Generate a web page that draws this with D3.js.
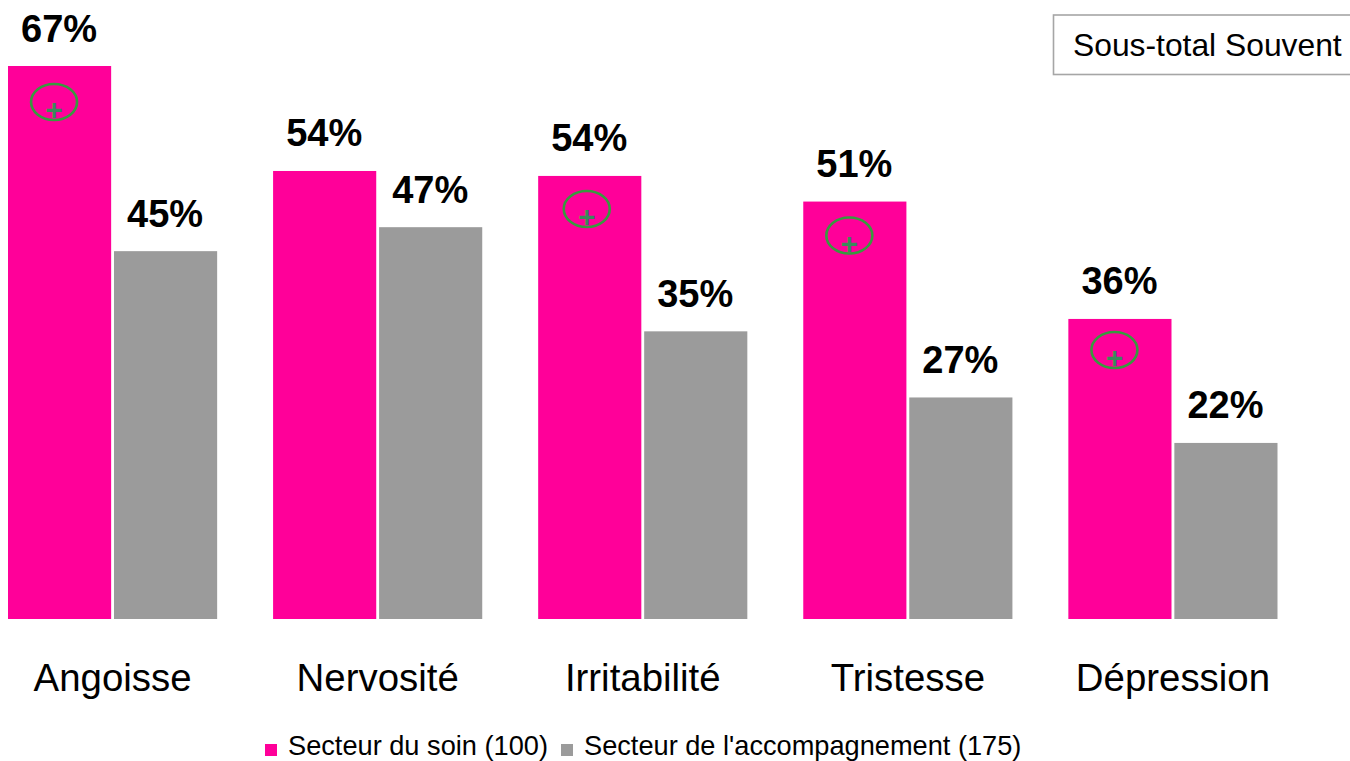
<!DOCTYPE html>
<html><head><meta charset="utf-8">
<script src="https://cdn.jsdelivr.net/npm/d3@7"></script>
<style>html,body{margin:0;padding:0;background:#fff}svg{display:block}text{font-family:"Liberation Sans",Arial,sans-serif;fill:#000}</style>
</head><body><div id="chart"></div>
<script>
const categories = ["Angoisse","Nervosité","Irritabilité","Tristesse","Dépression"];
const seriesNames = ["Secteur du soin (100)","Secteur de l'accompagnement (175)"];
const soin = [66.9,54.2,53.6,50.5,36.3];
const accompagnement = [44.5,47.4,34.8,26.8,21.3];
const soinLabels = ["67%","54%","54%","51%","36%"];
const accompagnementLabels = ["45%","47%","35%","27%","22%"];
const significant = [true,false,true,true,true];
const colors = ["#ff0099","#9b9b9b"];

const W=1350,H=761,baseY=619;
const svg=d3.select("#chart").append("svg").attr("width",W).attr("height",H);
const y=d3.scaleLinear().domain([0,66.9]).range([baseY,66]);
const x0=d3.scaleBand().domain(categories).range([8,1277.5]).paddingInner(0.211).paddingOuter(0);
const x1=d3.scaleBand().domain([0,1]).range([0,x0.bandwidth()]).paddingInner(0.027);

const series=[{v:soin,l:soinLabels},{v:accompagnement,l:accompagnementLabels}];
series.forEach((s,si)=>{
  const g=svg.append("g");
  g.selectAll("rect").data(categories).join("rect")
    .attr("x",c=>x0(c)+x1(si)).attr("width",x1.bandwidth())
    .attr("y",(c,i)=>y(s.v[i])).attr("height",(c,i)=>baseY-y(s.v[i]))
    .attr("fill",colors[si]);
  g.selectAll("text").data(categories).join("text")
    .attr("x",c=>x0(c)+x1(si)+x1.bandwidth()/2-0.5)
    .attr("y",(c,i)=>y(s.v[i])-24.5)
    .attr("text-anchor","middle").attr("font-weight","bold").attr("font-size",38)
    .text((c,i)=>s.l[i]);
});

// category labels
svg.append("g").selectAll("text").data(categories).join("text")
  .attr("x",c=>x0(c)+x0.bandwidth()/2)
  .attr("y",691).attr("text-anchor","middle").attr("font-size",38.4).text(c=>c);

// significance markers, hand-placed on the bars as in the source slide
const nudge={"Angoisse":[0,36],"Irritabilité":[2.5,33],"Tristesse":[0,34],"Dépression":[0,31]};
const mk=svg.append("g").selectAll("g").data(categories.filter((c,i)=>significant[i])).join("g")
  .attr("transform",c=>{
    const i=categories.indexOf(c);
    return `translate(${x0(c)+x1(0)+x1.bandwidth()/2-5.5+nudge[c][0]},${y(soin[i])+nudge[c][1]})`;
  });
mk.append("ellipse").attr("rx",23).attr("ry",18).attr("fill","none").attr("stroke","#38993f").attr("stroke-width",2.6);
mk.append("text").attr("y",18).attr("text-anchor","middle").attr("font-size",30).attr("font-weight","bold")
  .style("fill","#3a8a5a").text("+");

// boxed label
svg.append("rect").attr("x",1053.5).attr("y",15).attr("width",300).attr("height",59.5)
  .attr("fill","#fff").attr("stroke","#a6a6a6").attr("stroke-width",1.6);
svg.append("text").attr("x",1073).attr("y",56).attr("font-size",31.8).text("Sous-total Souvent");

// legend
const lg=[{x:265,tx:288},{x:561,tx:584}];
lg.forEach((p,i)=>{
  svg.append("rect").attr("x",p.x).attr("y",744).attr("width",12).attr("height",12).attr("fill",colors[i]);
  svg.append("text").attr("x",p.tx).attr("y",755).attr("font-size",27.2).text(seriesNames[i]);
});
</script></body></html>
